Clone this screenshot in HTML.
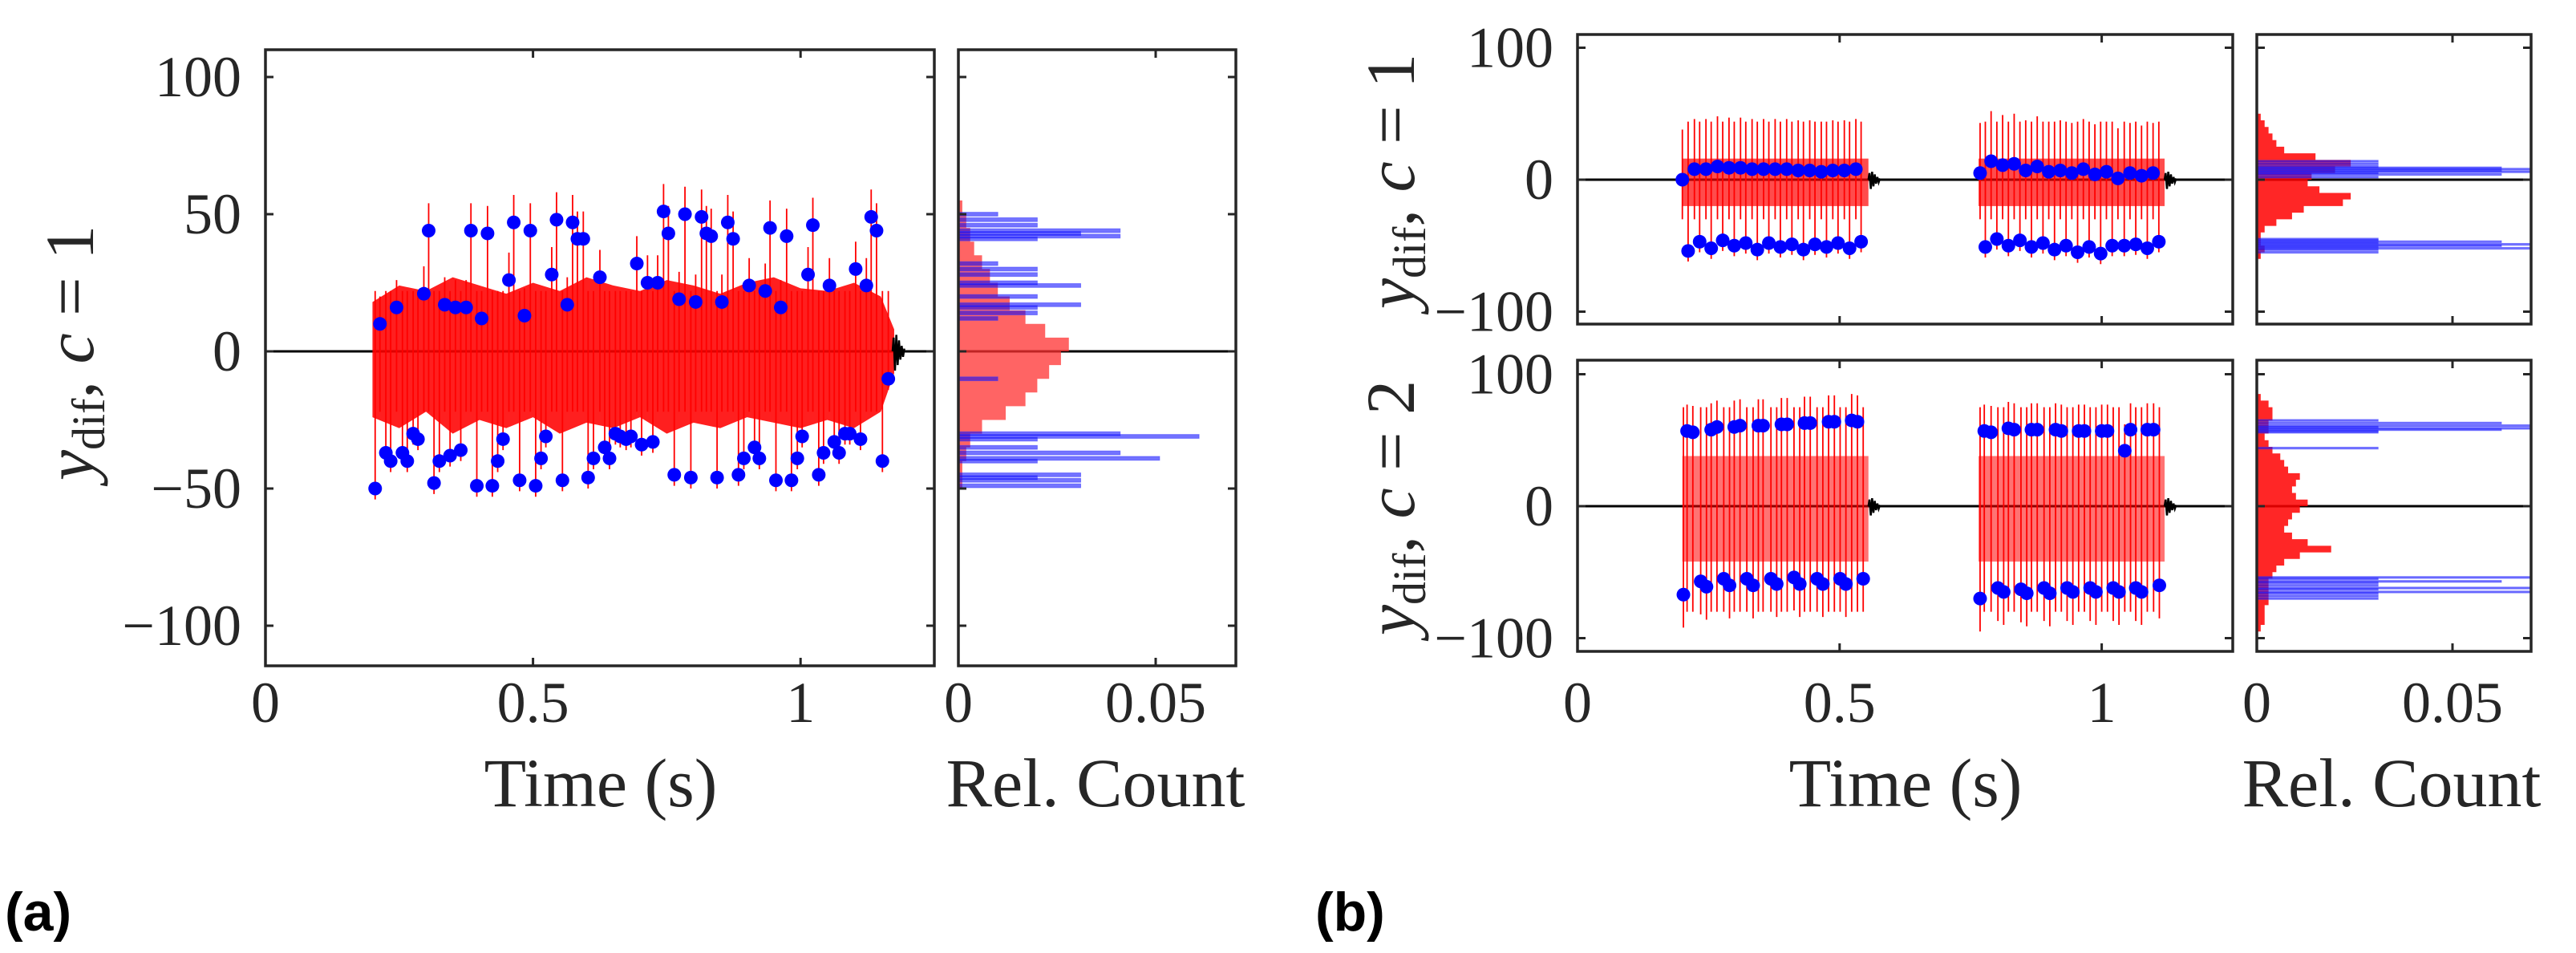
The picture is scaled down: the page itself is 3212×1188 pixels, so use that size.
<!DOCTYPE html>
<html><head><meta charset="utf-8"><style>
html,body{margin:0;padding:0;background:#fff;}
svg{display:block;font-family:"Liberation Serif",serif;}
</style></head><body>
<svg id="fig" width="3212" height="1188" viewBox="0 0 3212 1188" xmlns="http://www.w3.org/2000/svg">
<rect width="3212" height="1188" fill="#fff"/>
<g id="root"></g>
</svg>
<script>
// ---------- Panel (a) data ----------
const aDotT = [0.205,0.214,0.225,0.234,0.245,0.256,0.265,0.276,0.285,0.296,0.305,0.315,0.325,0.335,0.345,0.355,0.365,0.375,0.384,0.395,0.404,0.415,0.424,0.434,0.444,0.455,0.464,0.475,0.484,0.495,0.505,0.515,0.524,0.535,0.544,0.555,0.564,0.574,0.583,0.594,0.603,0.613,0.625,0.634,0.643,0.654,0.663,0.674,0.683,0.694,0.703,0.714,0.724,0.733,0.744,0.753,0.764,0.773,0.784,0.795,0.804,0.815,0.824,0.833,0.844,0.853,0.864,0.874,0.884,0.894,0.904,0.914,0.923,0.934,0.943,0.954,0.963,0.974,0.983,0.994,1.003,1.014,1.023,1.034,1.043,1.054,1.063,1.072,1.083,1.092,1.103,1.112,1.123,1.132,1.142,1.153,1.164];
const aDotY = [-50,10,-37,-40,16,-37,-40,-30,-32,21,44,-48,-40,17,-38,16,-36,16,44,-49,12,43,-49,-40,-32,26,47,-47,13,44,-49,-39,-31,28,48,-47,17,47,41,41,-46,-39,27,-35,-39,-30,-31,-32,-31,32,-34,25,-33,25,51,43,-45,19,50,-46,18,49,43,42,-46,18,47,41,-45,-39,24,-35,-39,22,45,-47,16,42,-47,-39,-31,28,46,-45,-37,24,-33,-37,-30,-30,30,-32,24,49,44,-40,-10];
const aBandT  = [0.200,0.25,0.30,0.35,0.40,0.45,0.50,0.55,0.60,0.65,0.70,0.75,0.80,0.85,0.90,0.95,1.00,1.05,1.10,1.15,1.175];
const aBandHi = [18,24,22,27,24,21,25,22,27,24,22,26,24,21,25,27,23,22,25,20,8];
const aBandLo = [-24,-28,-22,-30,-25,-28,-24,-30,-26,-28,-24,-30,-26,-28,-24,-26,-28,-25,-28,-22,-8];
const aHistY  = [52.5,47.5,42.5,37.5,32.5,27.5,22.5,17.5,12.5,7.5,2.5,-2.5,-7.5,-12.5,-17.5,-22.5,-27.5,-32.5,-37.5,-42.5,-47.5];
const aHistC  = [0.001,0.002,0.003,0.004,0.006,0.008,0.010,0.013,0.017,0.022,0.028,0.026,0.023,0.020,0.017,0.012,0.006,0.003,0.002,0.001,0.001];
const aBlueY  = [50,48,46,44,43,42,41,32,30,28,25,24,20,17,16,14,12,-10,-30,-31,-32,-35,-37,-39,-40,-45,-46,-47,-49];
const aBlueC  = [0.01,0.02,0.02,0.041,0.031,0.041,0.02,0.01,0.02,0.02,0.02,0.031,0.02,0.031,0.02,0.02,0.01,0.01,0.041,0.061,0.02,0.02,0.041,0.051,0.02,0.031,0.02,0.031,0.031];

// ---------- Panel (b), c=1 ----------
const b1DotT = [0.200,0.223,0.245,0.267,0.289,0.311,0.333,0.355,0.377,0.399,0.421,0.443,0.465,0.487,0.509,0.531, 0.211,0.233,0.255,0.277,0.299,0.321,0.343,0.365,0.387,0.409,0.431,0.453,0.475,0.497,0.519,0.541, 0.768,0.789,0.811,0.833,0.855,0.877,0.899,0.921,0.943,0.965,0.987,1.009,1.031,1.054,1.076,1.098, 0.778,0.800,0.822,0.844,0.866,0.888,0.910,0.932,0.954,0.976,0.998,1.020,1.043,1.065,1.087,1.109];
const b1DotY = [0,8,8,10,9,9,8,8,8,8,7,7,6,7,7,8, -54,-47,-52,-46,-50,-48,-53,-48,-51,-49,-53,-49,-51,-48,-52,-47, 5,14,11,12,7,10,6,7,5,8,4,6,1,5,3,5, -51,-45,-50,-46,-51,-48,-53,-50,-55,-51,-56,-50,-50,-49,-52,-47];
const b1BurstStart = [0.200,0.765];
const b1BurstEnd   = [0.555,1.120];
const b1BandHi = [16,16];
const b1BandLo = [-20,-20];
const b1HistY = [47.5,42.5,37.5,32.5,27.5,22.5,17.5,12.5,7.5,2.5,-2.5,-7.5,-12.5,-17.5,-22.5,-27.5,-32.5,-37.5,-42.5,-47.5,-52.5,-57.5];
const b1HistC = [0.001,0.002,0.003,0.004,0.005,0.007,0.015,0.024,0.020,0.014,0.013,0.016,0.024,0.022,0.012,0.009,0.005,0.002,0.001,0.001,0.002,0.001];
const b1BlueY = [14,12,10,9,8,7,6,5,4,2,-45,-46,-47,-48,-49,-50,-51,-52,-53,-55];
const b1BlueC = [0.031,0.031,0.031,0.0625,0.07,0.0625,0.07,0.031,0.0625,0.031,0.031,0.031,0.0625,0.031,0.07,0.0625,0.031,0.07,0.031,0.031];

// ---------- Panel (b), c=2 ----------
const b2DotT = [0.209,0.220,0.255,0.266,0.299,0.310,0.345,0.354,0.389,0.400,0.433,0.444,0.479,0.490,0.523,0.534, 0.202,0.235,0.246,0.279,0.290,0.323,0.335,0.369,0.380,0.413,0.424,0.457,0.468,0.501,0.512,0.545, 0.776,0.789,0.822,0.833,0.866,0.877,0.912,0.923,0.956,0.967,1.000,1.011,1.044,1.055,1.087,1.099, 0.768,0.802,0.813,0.846,0.857,0.890,0.901,0.934,0.945,0.978,0.989,1.022,1.033,1.065,1.076,1.110];
const b2DotY = [57,56,58,60,60,61,61,61,62,62,63,63,64,64,65,64, -67,-57,-61,-55,-60,-55,-60,-55,-59,-54,-59,-55,-59,-55,-59,-55, 57,56,59,58,58,58,58,57,57,57,57,57,42,58,58,58, -70,-62,-65,-63,-66,-62,-66,-62,-65,-62,-65,-62,-65,-62,-65,-60];
const b2BurstStart = [0.200,0.765];
const b2BurstEnd   = [0.555,1.120];
const b2BandHi = [38,38];
const b2BandLo = [-42,-42];
const b2HistY = [82.5,77.5,72.5,67.5,62.5,57.5,52.5,47.5,42.5,37.5,32.5,27.5,22.5,17.5,12.5,7.5,2.5,-2.5,-7.5,-12.5,-17.5,-22.5,-27.5,-32.5,-37.5,-42.5,-47.5,-52.5,-57.5,-62.5,-67.5,-72.5,-77.5,-82.5,-87.5,-92.5];
const b2HistC = [0.001,0.003,0.004,0.004,0.003,0.003,0.002,0.003,0.004,0.006,0.007,0.008,0.011,0.010,0.009,0.010,0.013,0.011,0.009,0.008,0.007,0.009,0.013,0.019,0.011,0.007,0.005,0.004,0.003,0.003,0.003,0.003,0.002,0.002,0.002,0.001];
const b2BlueY = [65,63,61,60,59,58,57,56,44,-54,-55,-57,-58,-60,-62,-63,-65,-66,-68,-70];
const b2BlueC = [0.031,0.0625,0.07,0.031,0.07,0.0625,0.031,0.031,0.031,0.07,0.031,0.0625,0.031,0.031,0.07,0.031,0.07,0.031,0.031,0.031];

const xTicks = [0,0.5,1];
const xTickLabels = ["0","0.5","1"];
const hTicks = [0,0.05];
const hTickLabels = ["0","0.05"];
const aYTicks = [100,50,0,-50,-100];
const aYTickLabels = ["100","50","0","\u221250","\u2212100"];
const bYTicks = [100,0,-100];
const bYTickLabels = ["100","0","\u2212100"];

const NS = "http://www.w3.org/2000/svg";
const root = document.getElementById('root');
function mk(tag, attrs, parent){
  const e = document.createElementNS(NS, tag);
  for (const k in attrs) e.setAttribute(k, attrs[k]);
  (parent||root).appendChild(e);
  return e;
}
const AX = "#262626";

function drawPanel(P, dotT, dotY, bandFn, upExt, dnExt, histY, histC, blueY, blueC, yTicks, yTickLabels, showX, burstEnds, name){
  const g = mk('g', {});
  
  
  const X = t => P.x0 + t * P.sx;
  const Y = v => P.y0 - v * P.sy;
  const zl = mk('line', {x1:P.x0, x2:P.x1, y1:Y(0), y2:Y(0), stroke:'#000', 'stroke-width':3}, g);
  
  
  bandFn(g, X, Y);
  for (let i=0;i<dotT.length;i++){
    const y = dotY[i];
    const top = y >= 0 ? y + upExt[0] : upExt[1];
    const bot = y >= 0 ? dnExt[1] : y - dnExt[0];
    const s = mk('line', {x1:X(dotT[i]), x2:X(dotT[i]), y1:Y(top), y2:Y(bot), stroke:'#ff0000', 'stroke-width':1.8}, g);
    
    
  }
  burstEnds.forEach(te => {
    let d = `M${X(te)},${Y(0)}`;
    const amps = [5,-7,6,-5,4,-3,2,-2,1];
    amps.forEach((a,k)=>{ d += ` L${X(te+0.002+k*0.0025)},${Y(a)}`; });
    const r = mk('path', {d:d, stroke:'#000', 'stroke-width':2.5, fill:'none'}, g);
    
    
  });
  for (let i=0;i<dotT.length;i++){
    const c = mk('circle', {cx:X(dotT[i]), cy:Y(dotY[i]), r:8.5, fill:'#0000ff'}, g);
    
    
  }
  const bx = mk('rect', {x:P.x0, y:P.top, width:P.x1-P.x0, height:P.bot-P.top, fill:'none', stroke:AX, 'stroke-width':3.5}, g);
  
  
  yTicks.forEach((v,i)=>{
    mk('line',{x1:P.x0,x2:P.x0+10,y1:Y(v),y2:Y(v),stroke:AX,'stroke-width':3},g);
    mk('line',{x1:P.x1,x2:P.x1-10,y1:Y(v),y2:Y(v),stroke:AX,'stroke-width':3},g);
    const t = mk('text',{x:P.x0-30,y:Y(v),'text-anchor':'end','dominant-baseline':'central','font-size':72,fill:AX},g);
    t.textContent = yTickLabels[i];
    
    
  });
  xTicks.forEach((v,i)=>{
    mk('line',{x1:X(v),x2:X(v),y1:P.top,y2:P.top+10,stroke:AX,'stroke-width':3},g);
    mk('line',{x1:X(v),x2:X(v),y1:P.bot,y2:P.bot-10,stroke:AX,'stroke-width':3},g);
    if (showX){
      const t = mk('text',{x:X(v),y:900,'text-anchor':'middle','font-size':72,fill:AX},g);
      t.textContent = xTickLabels[i];
      
      
    }
  });
  const h = mk('g', {});
  
  
  const HX = c => P.h0 + c * P.hs;
  const zh = mk('line', {x1:P.h0, x2:P.h1, y1:Y(0), y2:Y(0), stroke:'#000', 'stroke-width':3}, h);
  
  
  const binH = Math.abs(histY[0]-histY[1]);
  let d = `M${HX(0)},${Y(histY[0]+binH/2)}`;
  histY.forEach((v,i)=>{ d += ` L${HX(histC[i])},${Y(v+binH/2)} L${HX(histC[i])},${Y(v-binH/2)}`; });
  d += ` L${HX(0)},${Y(histY[histY.length-1]-binH/2)} Z`;
  const rh = mk('path', {d:d, fill:P.redFill, 'fill-opacity':P.redOp, stroke:'none'}, h);
  
  
  blueY.forEach((v,i)=>{
    const r = mk('rect', {x:HX(0), y:Y(v+0.7), width:HX(blueC[i])-HX(0), height:1.4*P.sy, fill:'#0000ff', 'fill-opacity':0.55, stroke:'#3333ff', 'stroke-opacity':0.5, 'stroke-width':1}, h);
    
    
  });
  const hb = mk('rect', {x:P.h0, y:P.top, width:P.h1-P.h0, height:P.bot-P.top, fill:'none', stroke:AX, 'stroke-width':3.5}, h);
  
  
  yTicks.forEach(v=>{
    mk('line',{x1:P.h0,x2:P.h0+10,y1:Y(v),y2:Y(v),stroke:AX,'stroke-width':3},h);
    mk('line',{x1:P.h1,x2:P.h1-10,y1:Y(v),y2:Y(v),stroke:AX,'stroke-width':3},h);
  });
  hTicks.forEach((v,i)=>{
    mk('line',{x1:HX(v),x2:HX(v),y1:P.top,y2:P.top+10,stroke:AX,'stroke-width':3},h);
    mk('line',{x1:HX(v),x2:HX(v),y1:P.bot,y2:P.bot-10,stroke:AX,'stroke-width':3},h);
    if (showX){
      const t = mk('text',{x:HX(v),y:900,'text-anchor':'middle','font-size':72,fill:AX},h);
      t.textContent = hTickLabels[i];
      
      
    }
  });
}

const PA = {x0:331,x1:1165,sx:667.2,top:62,bot:830,y0:438,sy:3.42,h0:1195,h1:1541,hs:4920,redFill:'#ff3030',redOp:0.75};
drawPanel(PA, aDotT, aDotY, (g,X,Y)=>{
  let d = `M${X(aBandT[0])},${Y(aBandHi[0])}`;
  aBandT.forEach((t,i)=>{ d += ` L${X(t)},${Y(aBandHi[i])}`; });
  for (let i=aBandT.length-1;i>=0;i--) d += ` L${X(aBandT[i])},${Y(aBandLo[i])}`;
  const p = mk('path',{d:d+' Z',fill:'#ff0000','fill-opacity':0.88},g);
  
  
}, [10,22], [4,-22], aHistY, aHistC, aBlueY, aBlueC, aYTicks, aYTickLabels, true, [1.172], 'panel-a');

function burstBand(starts, ends, hi, lo, op){
  return (g,X,Y)=>{
    starts.forEach((s,i)=>{
      const r = mk('rect',{x:X(s),y:Y(hi[i]),width:X(ends[i])-X(s),height:Y(lo[i])-Y(hi[i]),fill:'#ff0000','fill-opacity':op},g);
      
      
    });
  };
}
const PB1 = {x0:1967,x1:2784,sx:653.6,top:43,bot:404,y0:224,sy:1.645,h0:2814,h1:3156,hs:4880,redFill:'#ff0000',redOp:0.85};
drawPanel(PB1, b1DotT, b1DotY, burstBand(b1BurstStart,b1BurstEnd,b1BandHi,b1BandLo,0.7), [38,44], [8,-30], b1HistY, b1HistC, b1BlueY, b1BlueC, bYTicks, bYTickLabels, false, b1BurstEnd, 'panel-b-c1');
const PB2 = {x0:1967,x1:2784,sx:653.6,top:449,bot:812,y0:631,sy:1.645,h0:2814,h1:3156,hs:4880,redFill:'#ff0000',redOp:0.85};
drawPanel(PB2, b2DotT, b2DotY, burstBand(b2BurstStart,b2BurstEnd,b2BandHi,b2BandLo,0.55), [20,75], [25,-80], b2HistY, b2HistC, b2BlueY, b2BlueC, bYTicks, bYTickLabels, true, b2BurstEnd, 'panel-b-c2');

function label(x,y,txt,size,name){
  const t = mk('text',{x:x,y:y,'text-anchor':'middle','font-size':size,fill:AX});
  t.textContent = txt;
  
  
}
label(749,1005,'Time (s)',86,'x-axis-title');
label(1366,1005,'Rel. Count',86,'hist-x-axis-title');
label(2376,1005,'Time (s)',86,'x-axis-title');
label(2982,1005,'Rel. Count',86,'hist-x-axis-title');

function ylabel(cx,cy,num,name){
  const t = mk('text',{x:0,y:0,'text-anchor':'middle','font-size':86,fill:AX,transform:`translate(${cx+28},${cy}) rotate(-90)`});
  
  
  t.innerHTML = `<tspan font-style="italic">y</tspan><tspan font-size="58" dy="14">dif</tspan><tspan dy="-14">,  </tspan><tspan font-style="italic">c</tspan><tspan> = ${num}</tspan>`;
}
ylabel(88,440,'1','y-axis-title');
ylabel(1735,226,'1','y-axis-title-c1');
ylabel(1735,633,'2','y-axis-title-c2');

function plabel(x,txt,name){
  const t = mk('text',{x:x,y:1160,'font-size':68,'font-weight':'bold','font-family':'Liberation Sans, sans-serif',fill:'#000'});
  t.textContent = txt;
  
  
}
plabel(6,'(a)','panel-label-a');
plabel(1640,'(b)','panel-label-b');
</script>
</body></html>
